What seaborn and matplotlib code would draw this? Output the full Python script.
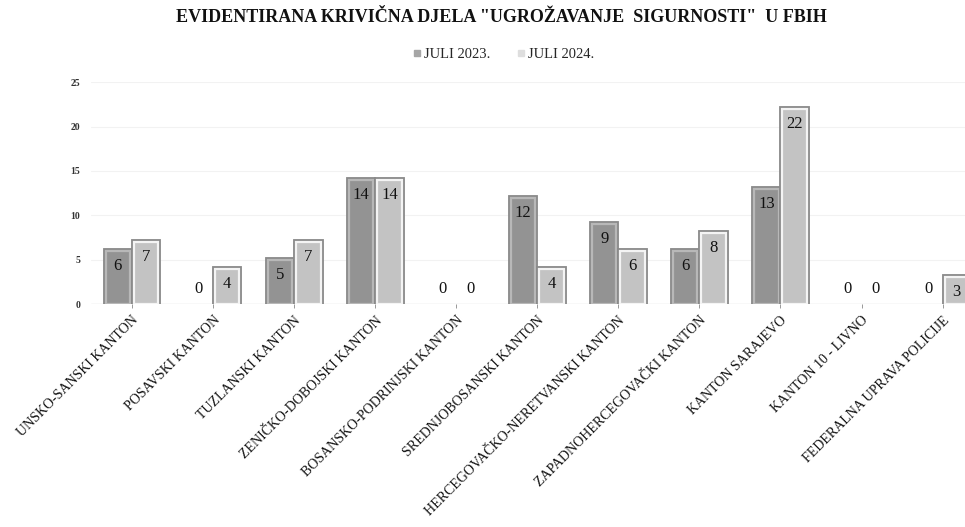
import matplotlib
matplotlib.use("Agg")
from matplotlib import pyplot as plt
import matplotlib.patheffects as pe
from matplotlib.lines import Line2D
import seaborn as sns
import pandas as pd

kantoni = ["UNSKO-SANSKI KANTON", "POSAVSKI KANTON", "TUZLANSKI KANTON",
           "ZENIČKO-DOBOJSKI KANTON", "BOSANSKO-PODRINJSKI KANTON",
           "SREDNJOBOSANSKI KANTON", "HERCEGOVAČKO-NERETVANSKI KANTON",
           "ZAPADNOHERCEGOVAČKI KANTON", "KANTON SARAJEVO", "KANTON 10 - LIVNO",
           "FEDERALNA UPRAVA POLICIJE"]
juli_2023 = [6, 0, 5, 14, 0, 12, 9, 6, 13, 0, 0]
juli_2024 = [7, 4, 7, 14, 0, 4, 6, 8, 22, 0, 3]
serije = ["JULI 2023.", "JULI 2024."]
y_ticks = [0, 5, 10, 15, 20, 25]

boje = {"JULI 2023.": "#939393", "JULI 2024.": "#c3c3c3"}
rubovi = {"JULI 2023.": "#b8b8b8", "JULI 2024.": "#f4f4f4"}


def main():
    tabela = pd.DataFrame({
        "Kanton": kantoni * 2,
        "Serija": [serije[0]] * len(kantoni) + [serije[1]] * len(kantoni),
        "Broj": juli_2023 + juli_2024,
    })

    sns.set_theme(style="white")
    plt.rcParams["font.family"] = ["Liberation Serif", "DejaVu Serif"]

    fig = plt.figure(figsize=(9.65, 5.27), dpi=100)
    ax = fig.add_axes([0.0948, 0.423, 0.924, 0.421])

    sns.barplot(data=tabela, x="Kanton", y="Broj", hue="Serija", hue_order=serije,
                palette=boje, width=0.7, gap=0.14, legend=False, ax=ax, zorder=3)

    # bevel izgled stupaca, nule se ne crtaju
    for cont, serija in zip(ax.containers, serije):
        for bar, v in zip(cont, cont.datavalues):
            xc = bar.get_x() + bar.get_width() / 2
            if v > 0:
                bar.set_edgecolor(rubovi[serija])
                bar.set_linewidth(1.6)
                bar.set_path_effects([pe.Stroke(linewidth=4.2, foreground="#8a8a8a"), pe.Normal()])
                ax.annotate(f"{int(v)}", (xc, v), xytext=(0, -5), textcoords="offset points",
                            ha="center", va="top", fontsize=12, color="#111111", zorder=5)
            else:
                bar.set_visible(False)
                ax.annotate(f"{int(v)}", (xc, v), xytext=(0, 5), textcoords="offset points",
                            ha="center", va="bottom", fontsize=12, color="#111111", zorder=5)

    ax.set_ylim(0, 25)
    ax.set_xlim(-0.5, len(kantoni) - 0.5)
    ax.set_yticks(y_ticks)
    ax.set_yticklabels([str(t) for t in y_ticks], fontsize=7, fontweight="bold", color="#333333")
    ax.set_xticks(range(len(kantoni)))
    ax.set_xticklabels(kantoni, rotation=45, ha="right", rotation_mode="anchor",
                       fontsize=10, color="#111111")
    ax.tick_params(axis="x", length=3, width=0.6, color="#888888", pad=4, bottom=True)
    ax.tick_params(axis="y", length=0, pad=8)
    ax.set_xlabel("")
    ax.set_ylabel("")
    sns.despine(ax=ax, left=True, bottom=True, right=True, top=True)
    ax.grid(axis="y", color="#f2f2f2", linewidth=0.8, zorder=0)
    ax.axhline(0, color="#e4e4e4", linewidth=1.0, zorder=1)

    fig.text(0.52, 0.966, 'EVIDENTIRANA KRIVIČNA DJELA "UGROŽAVANJE  SIGURNOSTI"  U FBIH',
             ha="center", va="center", fontsize=13, fontweight="bold", color="#111111")

    handles = [Line2D([], [], marker="s", linestyle="", markersize=5,
                      markerfacecolor=c, markeredgecolor=c)
               for c in ["#a6a6a6", "#dedede"]]
    fig.legend(handles, serije, loc="center", bbox_to_anchor=(0.52, 0.896), ncol=2,
               frameon=False, fontsize=10.5, handletextpad=0.0, columnspacing=1.6,
               handlelength=1.0)

    fig.savefig("out.png", dpi=100)


if __name__ == "__main__":
    main()
